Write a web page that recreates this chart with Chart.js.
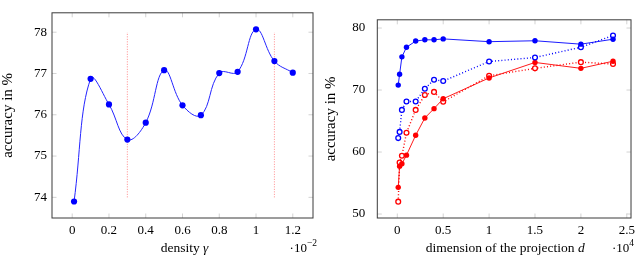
<!DOCTYPE html>
<html>
<head>
<meta charset="utf-8">
<script src="https://cdn.jsdelivr.net/npm/chart.js@4.4.1/dist/chart.umd.min.js"></script>
<style>
body { margin: 0; background: #fff; }
#wrap { position: relative; width: 640px; height: 255px; }
.box { position: absolute; top: 0; width: 320px; height: 255px; }
</style>
</head>
<body>
<div id="wrap">
  <div class="box" style="left:0"><canvas id="left" width="320" height="255"></canvas></div>
  <div class="box" style="left:320px"><canvas id="right" width="320" height="255"></canvas></div>
</div>
<script>
// left panel: accuracy vs density (x in units of 10^-2)
const densityGamma = [0.01, 0.1, 0.2, 0.3, 0.4, 0.5, 0.6, 0.7, 0.8, 0.9, 1.0, 1.1, 1.2];
const densityAccuracy = [73.9, 76.87, 76.25, 75.4, 75.81, 77.08, 76.23, 75.99, 77.01, 77.04, 78.07, 77.3, 77.02];
const markerGamma = [0.3, 1.1];
const markerRange = [74, 78];
const gammaTicks = [0, 0.2, 0.4, 0.6, 0.8, 1.0, 1.2];
const leftAccTicks = [74, 75, 76, 77, 78];

// right panel: accuracy vs projection dimension (x in units of 10^4)
const projDim = [0.01, 0.025, 0.05, 0.1, 0.2, 0.3, 0.4, 0.5, 1, 1.5, 2, 2.35];
const blueSolid = [70.8, 72.55, 75.35, 76.9, 77.9, 78.1, 78.1, 78.25, 77.8, 77.95, 77.4, 78.2];
const blueDotted = [62.25, 63.25, 66.8, 68.15, 68.15, 70.2, 71.65, 71.45, 74.6, 75.25, 76.9, 78.8];
const redSolid = [54.3, 57.7, 58.1, 59.5, 62.7, 65.5, 67.0, 68.6, 71.95, 74.45, 73.5, 74.65];
const redDotted = [52.0, 58.3, 59.4, 63.1, 66.8, 69.2, 69.7, 68.1, 72.3, 73.5, 74.5, 74.2];
const dimTicks = [0, 0.5, 1, 1.5, 2, 2.5];
const rightAccTicks = [50, 60, 70, 80];

const FONT = "'Liberation Serif', 'DejaVu Serif', serif";
const BLUE = '#0000ff';
const RED = '#ff0000';

function pts(xs, ys) {
    return xs.map((x, i) => ({ x: x, y: ys[i] }));
}

function fmt(v) {
    return String(Math.round(v * 100) / 100);
}

// pgfplots-like box with small inward ticks and the x title / exponent
const framePlugin = {
    id: 'frame',
    afterDraw(chart, args, opts) {
        const ctx = chart.ctx;
        const a = chart.chartArea;
        const xs = chart.scales.x, ys = chart.scales.y;
        ctx.save();
        ctx.strokeStyle = '#c8c8c8';
        ctx.lineWidth = 0.8;
        const len = 4.5;
        xs.ticks.forEach(t => {
            const px = xs.getPixelForValue(t.value);
            ctx.beginPath();
            ctx.moveTo(px, a.bottom); ctx.lineTo(px, a.bottom - len);
            ctx.moveTo(px, a.top); ctx.lineTo(px, a.top + len);
            ctx.stroke();
        });
        ys.ticks.forEach(t => {
            const py = ys.getPixelForValue(t.value);
            ctx.beginPath();
            ctx.moveTo(a.left, py); ctx.lineTo(a.left + len, py);
            ctx.moveTo(a.right, py); ctx.lineTo(a.right - len, py);
            ctx.stroke();
        });
        ctx.strokeStyle = '#3a3a3a';
        ctx.lineWidth = 1;
        ctx.strokeRect(a.left, a.top, a.right - a.left, a.bottom - a.top);

        // x title: plain part + italic symbol
        ctx.fillStyle = '#000';
        ctx.textBaseline = 'alphabetic';
        const cx = (a.left + a.right) / 2 + opts.shift;
        const fs = '13.5px ';
        ctx.font = fs + FONT;
        const w1 = ctx.measureText(opts.title).width;
        ctx.font = 'italic ' + fs + FONT;
        const w2 = ctx.measureText(opts.symbol).width;
        let x0 = cx - (w1 + w2) / 2;
        ctx.font = fs + FONT;
        ctx.textAlign = 'left';
        ctx.fillText(opts.title, x0, 252);
        ctx.font = 'italic ' + fs + FONT;
        ctx.fillText(opts.symbol, x0 + w1, 252);

        // exponent marker
        ctx.font = '13px ' + FONT;
        const base = '\u00b710';
        const wb = ctx.measureText(base).width;
        ctx.font = '9.5px ' + FONT;
        const we = ctx.measureText(opts.exp).width;
        const ex = a.right + opts.expRight - wb - we;
        ctx.font = '13px ' + FONT;
        ctx.fillText(base, ex, 252);
        ctx.font = '9.5px ' + FONT;
        ctx.fillText(opts.exp, ex + wb, 246);
        ctx.restore();
    }
};

function axes(xMin, xMax, xTicks, yMin, yMax, yTicks, yWidth, yPad, yTitlePad) {
    return {
        x: {
            type: 'linear', min: xMin, max: xMax,
            grid: { display: false, drawTicks: false },
            border: { display: false },
            afterBuildTicks: s => { s.ticks = xTicks.map(v => ({ value: v })); },
            afterFit: s => { s.height = 37; },
            ticks: { color: '#000', font: { family: FONT, size: 13 }, padding: 5, maxRotation: 0, callback: fmt }
        },
        y: {
            type: 'linear', min: yMin, max: yMax,
            grid: { display: false, drawTicks: false },
            border: { display: false },
            afterBuildTicks: s => { s.ticks = yTicks.map(v => ({ value: v })); },
            afterFit: s => { s.width = yWidth; },
            title: { display: true, text: 'accuracy in %', color: '#000', font: { family: FONT, size: 15 }, padding: { top: yTitlePad, bottom: 0 } },
            ticks: { color: '#000', font: { family: FONT, size: 13 }, padding: yPad, callback: fmt }
        }
    };
}

new Chart(document.getElementById('left'), {
    type: 'line',
    data: {
        datasets: [
            {
                data: pts(densityGamma, densityAccuracy),
                borderColor: '#2424ff', borderWidth: 1, tension: 0.4,
                pointRadius: 3.1, pointBackgroundColor: BLUE, pointBorderColor: BLUE, pointBorderWidth: 0
            },
            ...markerGamma.map(g => ({
                data: pts([g, g], markerRange),
                borderColor: 'rgba(255,60,60,0.75)', borderWidth: 0.8, borderDash: [1, 1.5],
                pointRadius: 0
            }))
        ]
    },
    options: {
        responsive: false, animation: false,
        layout: { padding: { left: 0, right: 7, top: 2, bottom: 0 } },
        plugins: { legend: { display: false }, tooltip: { enabled: false },
            frame: { title: 'density ', symbol: '\u03b3', exp: '\u22122', shift: 2, expRight: 4 } },
        scales: axes(-0.11, 1.31, gammaTicks, 73.5, 78.47, leftAccTicks, 52, 5, -1)
    },
    plugins: [framePlugin]
});

function solid(ys, color) {
    return {
        data: pts(projDim, ys), borderColor: color, borderWidth: 0.9, tension: 0,
        pointRadius: 2.7, pointBackgroundColor: color, pointBorderColor: color, pointBorderWidth: 0
    };
}

function dotted(ys, color) {
    return {
        data: pts(projDim, ys), borderColor: color, borderWidth: 1.4, borderDash: [1, 2.2], tension: 0,
        pointRadius: 2.4, pointBackgroundColor: '#fff', pointBorderColor: color, pointBorderWidth: 1.3
    };
}

new Chart(document.getElementById('right'), {
    type: 'line',
    data: {
        datasets: [
            solid(blueSolid, BLUE),
            dotted(blueDotted, BLUE),
            solid(redSolid, RED),
            dotted(redDotted, RED)
        ]
    },
    options: {
        responsive: false, animation: false,
        layout: { padding: { left: 0, right: 4, top: 2, bottom: 0 } },
        plugins: { legend: { display: false }, tooltip: { enabled: false },
            frame: { title: 'dimension of the projection ', symbol: 'd', exp: '4', shift: 1, expRight: 3 } },
        scales: axes(-0.218, 2.546, dimTicks, 49.36, 81.33, rightAccTicks, 57.3, 12, 2)
    },
    plugins: [framePlugin]
});
</script>
</body>
</html>
